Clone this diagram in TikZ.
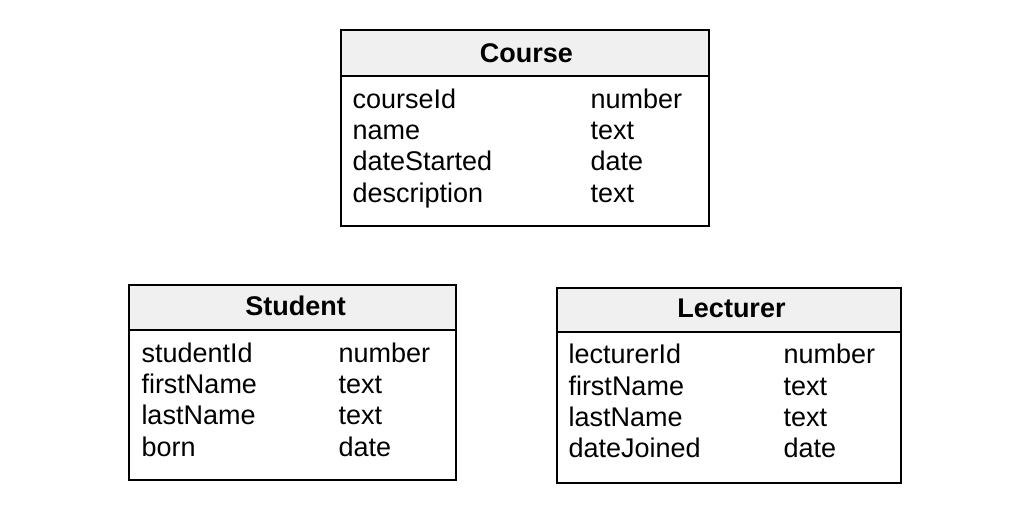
\documentclass[tikz,border=0pt]{standalone}
\usepackage{fontspec}
\setmainfont{Liberation Sans}
\begin{document}
\begin{tikzpicture}[x=1pt,y=-1pt,
  every node/.style={inner sep=0pt, outer sep=0pt},
  tablehead/.style={draw=black, line width=2pt, fill=headgray, anchor=north west},
  tablebody/.style={draw=black, line width=2pt, fill=white, anchor=north west},
  headtext/.style={anchor=base, font=\fontsize{27}{32}\selectfont\bfseries},
  fieldtext/.style={anchor=base west, font=\fontsize{27}{32}\selectfont}]
\definecolor{headgray}{RGB}{240,240,240}
\useasboundingbox (0,0) rectangle (1017,510);

% Course table
\node[tablebody, minimum width=367.5pt, minimum height=150.5pt] (coursebody) at (341,76) {};
\node[tablehead, minimum width=367.5pt, minimum height=46pt] (coursehead) at (341,30) {};
\node[headtext] (coursetitle) at (526.5,62.5) {Course};
\node[fieldtext] (c1) at (352.5,108.3) {courseId};
\node[fieldtext] (c2) at (352.5,139.6) {name};
\node[fieldtext] (c3) at (352.5,170.9) {dateStarted};
\node[fieldtext] (c4) at (352.5,202.2) {description};
\node[fieldtext] (ct1) at (590.5,108.3) {number};
\node[fieldtext] (ct2) at (590.5,139.6) {text};
\node[fieldtext] (ct3) at (590.5,170.9) {date};
\node[fieldtext] (ct4) at (590.5,202.2) {text};

% Student table
\node[tablebody, minimum width=326.5pt, minimum height=150pt] (studentbody) at (129.3,330) {};
\node[tablehead, minimum width=326.5pt, minimum height=45pt] (studenthead) at (129.3,285) {};
\node[headtext] (studenttitle) at (295.5,316) {Student};
\node[fieldtext] (s1) at (141.5,362.3) {studentId};
\node[fieldtext] (s2) at (141.5,393.6) {firstName};
\node[fieldtext] (s3) at (141.5,424.9) {lastName};
\node[fieldtext] (s4) at (141.5,456.2) {born};
\node[fieldtext] (st1) at (338.5,362.3) {number};
\node[fieldtext] (st2) at (338.5,393.6) {text};
\node[fieldtext] (st3) at (338.5,424.9) {text};
\node[fieldtext] (st4) at (338.5,456.2) {date};

% Lecturer table
\node[tablebody, minimum width=344pt, minimum height=151pt] (lecturerbody) at (557.3,332) {};
\node[tablehead, minimum width=344pt, minimum height=44pt] (lecturerhead) at (557.3,288) {};
\node[headtext] (lecturertitle) at (731.5,318) {Lecturer};
\node[fieldtext] (l1) at (568.5,363.7) {lecturerId};
\node[fieldtext] (l2) at (568.5,395.1) {firstName};
\node[fieldtext] (l3) at (568.5,426.5) {lastName};
\node[fieldtext] (l4) at (568.5,457.9) {dateJoined};
\node[fieldtext] (lt1) at (783.5,363.7) {number};
\node[fieldtext] (lt2) at (783.5,395.1) {text};
\node[fieldtext] (lt3) at (783.5,426.5) {text};
\node[fieldtext] (lt4) at (783.5,457.9) {date};
\end{tikzpicture}
\end{document}
